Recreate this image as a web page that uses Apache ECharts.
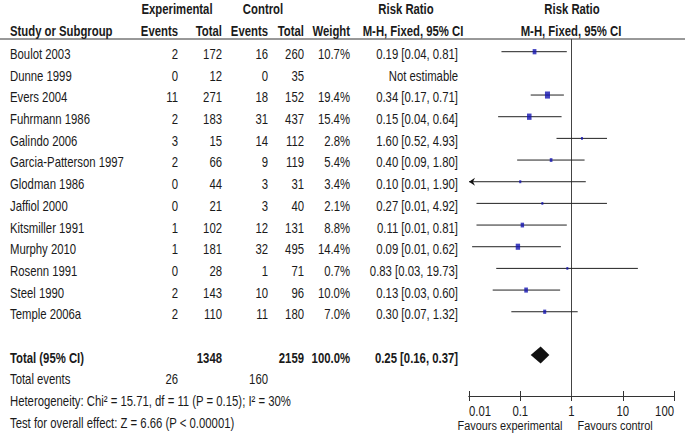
<!DOCTYPE html>
<html><head><meta charset="utf-8">
<script src="https://cdn.jsdelivr.net/npm/echarts@6/dist/echarts.min.js"></script>
<style>html,body{margin:0;padding:0;background:#fff}#c{width:685px;height:440px}</style>
</head><body><div id="c"></div>
<script>
const studies = ["Boulot 2003","Dunne 1999","Evers 2004","Fuhrmann 1986","Galindo 2006","Garcia-Patterson 1997","Glodman 1986","Jaffiol 2000","Kitsmiller 1991","Murphy 2010","Rosenn 1991","Steel 1990","Temple 2006a"];
const expEvents = [2,0,11,2,3,2,0,0,1,1,0,2,2];
const expTotal = [172,12,271,183,15,66,44,21,102,181,28,143,110];
const ctrlEvents = [16,0,18,31,14,9,3,3,12,32,1,10,11];
const ctrlTotal = [260,35,152,437,112,119,31,40,131,495,71,96,180];
const weightPct = [10.7,null,19.4,15.4,2.8,5.4,3.4,2.1,8.8,14.4,0.7,10.0,7.0];
const riskRatio = [0.19,null,0.34,0.15,1.60,0.40,0.10,0.27,0.11,0.09,0.83,0.13,0.30];
const ciLower = [0.043,null,0.16,0.037,0.51,0.087,0.005,0.014,0.014,0.0115,0.034,0.029,0.067];
const ciUpper = [0.81,null,0.71,0.64,4.93,1.80,1.90,4.92,0.81,0.62,19.73,0.60,1.32];
const ciText = ["0.19 [0.04, 0.81]","Not estimable","0.34 [0.17, 0.71]","0.15 [0.04, 0.64]","1.60 [0.52, 4.93]","0.40 [0.09, 1.80]","0.10 [0.01, 1.90]","0.27 [0.01, 4.92]","0.11 [0.01, 0.81]","0.09 [0.01, 0.62]","0.83 [0.03, 19.73]","0.13 [0.03, 0.60]","0.30 [0.07, 1.32]"];
const pooledRR = [0.25, 0.16, 0.37];
const pooledText = "0.25 [0.16, 0.37]";
const totals = {exp: 1348, ctrl: 2159, weight: "100.0%"};
const totalEvents = {exp: 26, ctrl: 160};
const heterogeneityText = "Heterogeneity: Chi\u00B2 = 15.71, df = 11 (P = 0.15); I\u00B2 = 30%";
const overallText = "Test for overall effect: Z = 6.66 (P < 0.00001)";
const axisTickValues = [0.01, 0.1, 1, 10, 100];
const axisTickLabels = ["0.01", "0.1", "1", "10", "100"];
const favourLabels = ["Favours experimental", "Favours control"];

const FONT = "'Liberation Sans',Arial,sans-serif";
const SX = 0.81;
const ROW0 = 51.7, ROWH = 21.67, TOP = 39, AXY = 396;
const rowY = i => ROW0 + ROWH * i;
const yMin = -(ROW0 - TOP) / ROWH;
const yMax = yMin + (AXY - TOP) / ROWH;

const g = [];
function txt(s, x, y, align, bold, size) {
  g.push({type:'text', x:x, y:y, scaleX:SX, silent:true, style:{text:String(s), fill:'#1a1a1a', fontSize:size||14, lineHeight:size||14, fontFamily:FONT, fontWeight: bold?'bold':'normal', align:align||'left', verticalAlign:'middle'}});
}
const COL = {name:10, ee:178, et:222, ce:268, ct:304, w:350, ci:458};
// headers
txt("Experimental", 177, 9.5, 'center', true);
txt("Control", 263, 9.5, 'center', true);
txt("Risk Ratio", 406, 9.5, 'center', true);
txt("Risk Ratio", 572, 9.5, 'center', true);
txt("Study or Subgroup", COL.name, 31.5, 'left', true);
txt("Events", COL.ee, 31.5, 'right', true);
txt("Total", COL.et, 31.5, 'right', true);
txt("Events", COL.ce, 31.5, 'right', true);
txt("Total", COL.ct, 31.5, 'right', true);
txt("Weight", COL.w, 31.5, 'right', true);
txt("M-H, Fixed, 95% CI", 413, 31.5, 'center', true);
txt("M-H, Fixed, 95% CI", 571, 31.5, 'center', true);
g.push({type:'line', silent:true, shape:{x1:0,y1:TOP,x2:685,y2:TOP}, style:{stroke:'#333', lineWidth:1}});
studies.forEach((s, i) => {
  const y = rowY(i) + 2.5;
  txt(s, COL.name, y, 'left');
  txt(expEvents[i], COL.ee, y, 'right');
  txt(expTotal[i], COL.et, y, 'right');
  txt(ctrlEvents[i], COL.ce, y, 'right');
  txt(ctrlTotal[i], COL.ct, y, 'right');
  if (weightPct[i] != null) txt(weightPct[i].toFixed(1) + "%", COL.w, y, 'right');
  txt(ciText[i], COL.ci, y, 'right');
});
const tY = rowY(14) + 2.5;
txt("Total (95% CI)", COL.name, tY, 'left', true);
txt(totals.exp, COL.et, tY, 'right', true);
txt(totals.ctrl, COL.ct, tY, 'right', true);
txt(totals.weight, COL.w, tY, 'right', true);
txt(pooledText, COL.ci, tY, 'right', true);
const eY = rowY(15) + 2.5;
txt("Total events", COL.name, eY, 'left');
txt(totalEvents.exp, COL.ee, eY, 'right');
txt(totalEvents.ctrl, COL.ce, eY, 'right');
txt(heterogeneityText, COL.name, rowY(16) + 2.5, 'left');
txt(overallText, COL.name, rowY(17) + 2.5, 'left');

const ciData = [], sqData = [];
studies.forEach((s, i) => {
  if (riskRatio[i] == null) return;
  ciData.push([ciLower[i], ciUpper[i], i]);
  sqData.push([riskRatio[i], i, weightPct[i]]);
});

const chart = echarts.init(document.getElementById('c'), null, {renderer:'svg'});
const xAxisBase = {type:'log', logBase:10, min:0.01, max:100, gridIndex:0, position:'bottom', splitLine:{show:false}, axisLabel:{show:false}, axisLine:{onZero:false, lineStyle:{color:'#333', width:1}}};
chart.setOption({
  animation:false,
  grid:{left:469, top:TOP, width:205, height:AXY-TOP, containLabel:false},
  xAxis:[
    Object.assign({}, xAxisBase, {axisTick:{show:true, inside:false, length:5, lineStyle:{color:'#333'}}}),
    Object.assign({}, xAxisBase, {axisTick:{show:true, inside:true, length:5, lineStyle:{color:'#333'}}})
  ],
  yAxis:{type:'value', inverse:true, min:yMin, max:yMax, show:false},
  series:[
    {type:'line', silent:true, data:[[1,yMin],[1,yMax]], symbol:'none', lineStyle:{color:'#444', width:1}, z:1},
    {type:'custom', silent:true, data:ciData, encode:{x:[0,1], y:2}, z:2,
     renderItem:(params, api) => {
       const lo = api.value(0), hi = api.value(1), r = api.value(2);
       const arrow = lo < 0.01;
       const p1 = api.coord([arrow ? 0.01 : lo, r]);
       const p2 = api.coord([hi, r]);
       const ch = [{type:'line', shape:{x1:p1[0], y1:p1[1], x2:p2[0], y2:p2[1]}, style:{stroke:'#222', lineWidth:1}}];
       if (arrow) ch.push({type:'polygon', shape:{points:[[p1[0],p1[1]],[p1[0]+6,p1[1]-4],[p1[0]+4,p1[1]],[p1[0]+6,p1[1]+4]]}, style:{fill:'#111'}});
       return {type:'group', children:ch};
     }},
    {type:'scatter', silent:true, data:sqData, symbol:'rect', z:3,
     symbolSize: v => { const w = Math.max(2, 1.15*Math.sqrt(v[2])); return [w, w*1.4]; },
     itemStyle:{color:'#1414b0'}},
    {type:'custom', silent:true, data:[pooledRR.concat([14])], encode:{x:[0,1,2], y:3}, z:3,
     renderItem:(params, api) => {
       const c = api.coord([api.value(0), api.value(3)]);
       const l = api.coord([api.value(1), api.value(3)]);
       const r = api.coord([api.value(2), api.value(3)]);
       return {type:'polygon', shape:{points:[[l[0],l[1]],[c[0],c[1]-8.5],[r[0],r[1]],[c[0],c[1]+8.5]]}, style:{fill:'#111'}};
     }}
  ]
});
// tick labels placed through the axis scale
axisTickValues.forEach((v, k) => {
  const px = chart.convertToPixel({xAxisIndex:0}, v);
  const al = k === 0 ? 'left' : (k === axisTickValues.length - 1 ? 'right' : 'center');
  txt(axisTickLabels[k], px, 411.5, al, false, 14);
});
const x1 = chart.convertToPixel({xAxisIndex:0}, 1);
txt(favourLabels[0], x1 - 9, 425.5, 'right', false, 13.5);
txt(favourLabels[1], x1 + 6, 425.5, 'left', false, 13.5);
chart.setOption({graphic:g});
</script></body></html>
